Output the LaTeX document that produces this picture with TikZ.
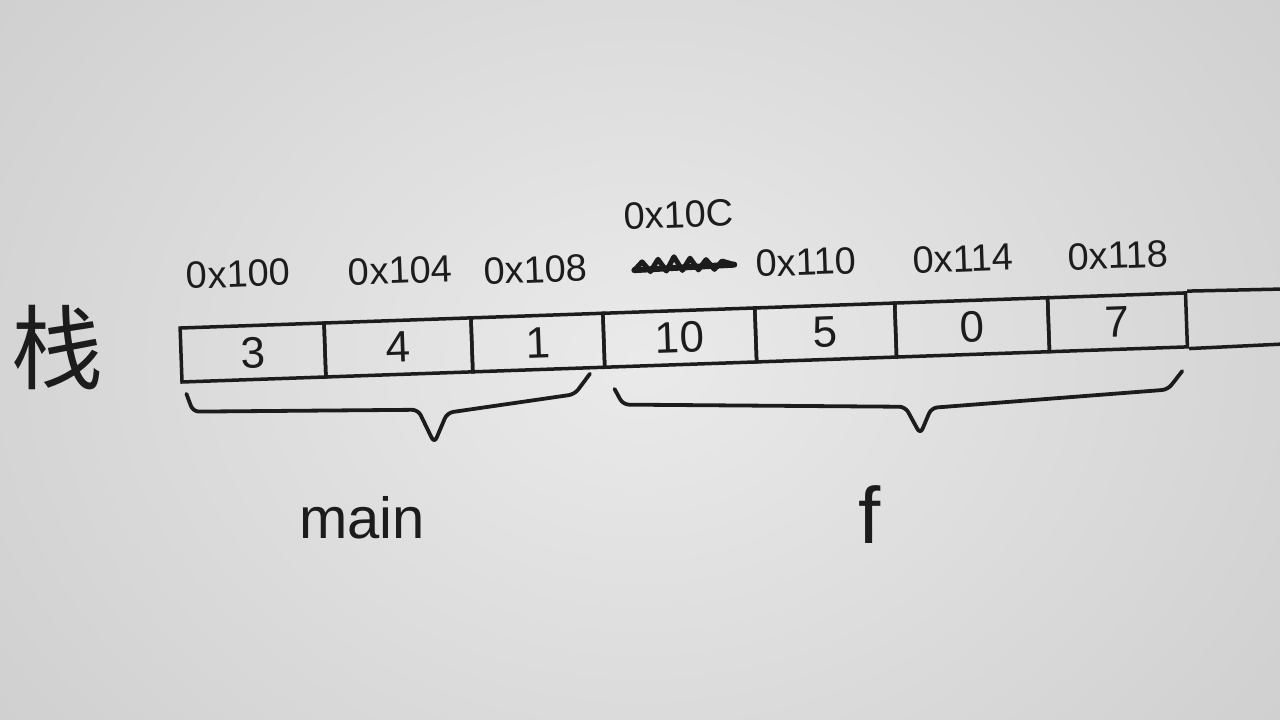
\documentclass[tikz,border=0pt]{standalone}
\usepackage{fontspec}
\setmainfont{Liberation Sans}
\newfontfamily\cjkfont{Noto Sans CJK SC}
\definecolor{ink}{RGB}{28,28,28}
\definecolor{paperlight}{RGB}{234,234,234}
\definecolor{paperdark}{RGB}{206,206,206}
\tikzset{
  cellbox/.style={draw=ink, line width=3.5pt, minimum height=54, inner sep=0,
    transform shape, text=ink, font=\fontsize{44}{50}\selectfont},
  addr/.style={inner sep=0, transform shape, text=ink, font=\fontsize{38}{44}\selectfont},
  bracepath/.style={draw=ink, line width=3.8pt, line cap=round, line join=round, rounded corners=6pt},
  inkline/.style={draw=ink, line width=3.5pt},
  bigtext/.style={inner sep=0, text=ink}
}
\begin{document}
\begin{tikzpicture}[x=1pt,y=1pt]
\useasboundingbox (0,0) rectangle (1280,720);
\clip (0,0) rectangle (1280,720);
\shade[inner color=paperlight, outer color=paperdark] (-200,-300) rectangle (1480,1020);

\node[bigtext, font=\cjkfont\fontsize{92}{100}\selectfont] (stack) at (57,372) {栈};

\begin{scope}[shift={(182,338)}, rotate=2]
  % cells
  \node[cellbox, minimum width=144] (c1) at (72,27) {3};
  \node[cellbox, minimum width=147] (c2) at (217.5,27) {4};
  \node[cellbox, minimum width=132] (c3) at (357,27) {1};
  \node[cellbox, minimum width=152] (c4) at (499,27) {10};
  \node[cellbox, minimum width=140] (c5) at (645,27) {5};
  \node[cellbox, minimum width=153] (c6) at (791.5,27) {0};
  \node[cellbox, minimum width=138] (c7) at (937,27) {7};
  \coordinate (e1) at (1140,54);
  \coordinate (e2) at (1140,0);
  \draw[inkline] (c7.north east) -- (e1);
  \draw[inkline] (c7.south east) -- (e2);

  % addresses
  \node[addr] (l1) at (60,106) {0x100};
  \node[addr] (l2) at (222,104) {0x104};
  \node[addr] (l3) at (357,100) {0x108};
  \node[addr] (l4) at (502,150) {0x10C};
  \node[addr] (l5) at (628,98) {0x110};
  \node[addr] (l6) at (785,96) {0x114};
  \node[addr] (l7) at (940,94) {0x118};
  % crossed-out address
  \coordinate (s1) at (456,96);
  \coordinate (s2) at (556,98);
  \draw[draw=ink, line width=5pt, line join=round, line cap=round]
    (s1) -- ++(8,8) -- ++(8,-10) -- ++(8,12) -- ++(8,-12) -- ++(8,14)
    -- ++(8,-14) -- ++(8,12) -- ++(8,-12) -- ++(8,10) -- ++(8,-10) -- ++(8,8) -- (s2);
  \draw[draw=ink, line width=6pt, line cap=round] (s1) -- (s2);

  % braces (hand-drawn style)
  \coordinate (b1) at (4,-12);
  \coordinate (b2) at (408,-6);
  \coordinate (b3) at (432,-22);
  \coordinate (b4) at (1000,-24);
  \draw[bracepath] (b1) -- (10,-30) -- (235,-36) -- (250,-70) -- (264,-40)
    -- (392,-26) -- (b2);
  \draw[bracepath] (b3) -- (440,-38) -- (722,-50) -- (736,-78) -- (748,-52)
    -- (985,-42) -- (b4);
\end{scope}

\node[bigtext, font=\fontsize{58}{64}\selectfont] (main) at (362,202) {main};
\node[bigtext, font=\fontsize{80}{88}\selectfont] (f) at (870,205) {f};
\end{tikzpicture}
\end{document}
